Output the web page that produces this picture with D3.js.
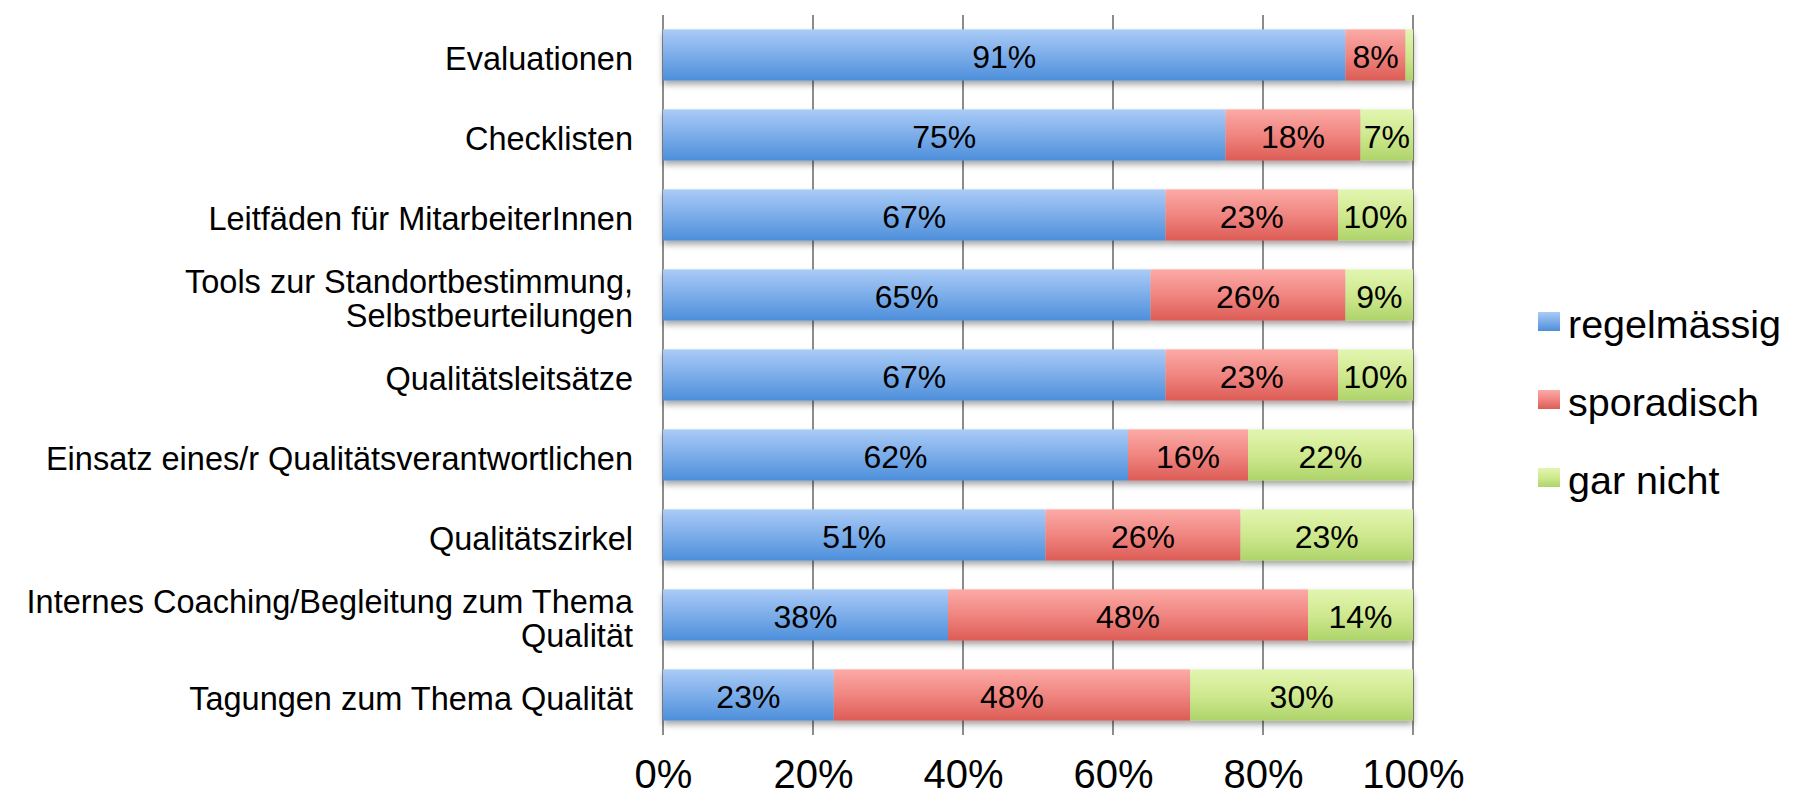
<!DOCTYPE html>
<html>
<head>
<meta charset="utf-8">
<script src="https://cdn.jsdelivr.net/npm/d3@7"></script>
<style>
    html, body { margin: 0; padding: 0; background: #fff; }
    svg { display: block; font-family: "Liberation Sans", Arial, Helvetica, sans-serif; }
</style>
</head>
<body>
<div id="chart"></div>
<script>
    // categories, top to bottom ("\n" = line break in the label)
    var categories = [
        "Evaluationen",
        "Checklisten",
        "Leitfäden für MitarbeiterInnen",
        "Tools zur Standortbestimmung,\nSelbstbeurteilungen",
        "Qualitätsleitsätze",
        "Einsatz eines/r Qualitätsverantwortlichen",
        "Qualitätszirkel",
        "Internes Coaching/Begleitung zum Thema\nQualität",
        "Tagungen zum Thema Qualität"
    ];
    var seriesNames = ["regelmässig", "sporadisch", "gar nicht"];
    var regelmaessig = [91, 75, 67, 65, 67, 62, 51, 38, 23];
    var sporadisch = [8, 18, 23, 26, 23, 16, 26, 48, 48];
    var garNicht = [1, 7, 10, 9, 10, 22, 23, 14, 30];
    var tickValues = [0, 0.2, 0.4, 0.6, 0.8, 1];
    var tickLabels = ["0%", "20%", "40%", "60%", "80%", "100%"];

    var width = 1795;
    var height = 806;
    var margin = {top: 15, right: 382, bottom: 71, left: 663};
    var innerWidth = width - margin.left - margin.right;
    var innerHeight = height - margin.top - margin.bottom;

    // build rows for the stack
    var rows = categories.map(function (c, i) {
        return {cat: c, "regelmässig": regelmaessig[i], "sporadisch": sporadisch[i], "gar nicht": garNicht[i]};
    });
    var stacked = d3.stack()
        .keys(seriesNames)
        .offset(d3.stackOffsetExpand)(rows);

    var svg = d3.select("#chart")
        .append("svg")
        .attr("width", width)
        .attr("height", height);

    var defs = svg.append("defs");
    var gradStops = {
        "regelmässig": ["#aacbf7", "#7cade9", "#4d8fdb"],
        "sporadisch": ["#fbaaa6", "#f08580", "#dc5c56"],
        "gar nicht": ["#e2f5b0", "#cfe98f", "#aed46a"]
    };
    seriesNames.forEach(function (name, i) {
        var g = defs.append("linearGradient")
            .attr("id", "grad" + i)
            .attr("x1", 0).attr("y1", 0)
            .attr("x2", 0).attr("y2", 1);
        g.append("stop").attr("offset", "0%").attr("stop-color", gradStops[name][0]);
        g.append("stop").attr("offset", "50%").attr("stop-color", gradStops[name][1]);
        g.append("stop").attr("offset", "100%").attr("stop-color", gradStops[name][2]);
    });
    var shadow = defs.append("filter")
        .attr("id", "shadow")
        .attr("x", "-5%").attr("y", "-20%")
        .attr("width", "110%").attr("height", "160%");
    shadow.append("feDropShadow")
        .attr("dx", 0).attr("dy", 4)
        .attr("stdDeviation", 3)
        .attr("flood-color", "#000")
        .attr("flood-opacity", 0.35);

    var g = svg.append("g")
        .attr("transform", "translate(" + margin.left + "," + margin.top + ")");

    var x = d3.scaleLinear()
        .domain([0, 1])
        .range([0, innerWidth]);
    var y = d3.scaleBand()
        .domain(categories)
        .range([0, innerHeight])
        .paddingInner(0.36)
        .paddingOuter(0.18);

    // vertical grid lines
    g.append("g")
        .selectAll("line")
        .data(tickValues)
        .join("line")
        .attr("x1", function (d) { return x(d); })
        .attr("x2", function (d) { return x(d); })
        .attr("y1", 0)
        .attr("y2", innerHeight)
        .attr("stroke", "#8c8c8c")
        .attr("stroke-width", 2);

    // bottom frame line with a soft shadow
    g.append("line")
        .attr("x1", x(0) - 1)
        .attr("x2", x(1) + 1)
        .attr("y1", innerHeight)
        .attr("y2", innerHeight)
        .attr("stroke", "#8c8c8c")
        .attr("stroke-width", 2)
        .attr("filter", "url(#shadow)");

    // stacked bars
    var layers = g.append("g")
        .attr("filter", "url(#shadow)")
        .selectAll("g")
        .data(stacked)
        .join("g")
        .attr("fill", function (d, i) { return "url(#grad" + i + ")"; });

    layers.selectAll("rect")
        .data(function (d) { return d; })
        .join("rect")
        .attr("x", function (d) { return x(d[0]); })
        .attr("y", function (d) { return y(d.data.cat); })
        .attr("width", function (d) { return x(d[1]) - x(d[0]); })
        .attr("height", y.bandwidth());

    // value labels in the segments
    stacked.forEach(function (layer) {
        g.append("g")
            .selectAll("text")
            .data(layer.filter(function (d) { return d.data[layer.key] >= 3; }))
            .join("text")
            .attr("x", function (d) { return (x(d[0]) + x(d[1])) / 2; })
            .attr("y", function (d) { return y(d.data.cat) + y.bandwidth() / 2 + 2; })
            .attr("dy", "0.35em")
            .attr("text-anchor", "middle")
            .attr("font-size", "32px")
            .attr("fill", "#000")
            .text(function (d) { return d.data[layer.key] + "%"; });
    });

    // category labels
    var catLabels = g.append("g")
        .selectAll("text")
        .data(categories)
        .join("text")
        .attr("text-anchor", "end")
        .attr("font-size", "32.5px")
        .attr("fill", "#000")
        .attr("transform", function (d) {
            return "translate(-30," + (y(d) + y.bandwidth() / 2 + 4) + ")";
        });
    catLabels.each(function (d) {
        var lines = d.split("\n");
        var lh = 34;
        d3.select(this).selectAll("tspan")
            .data(lines)
            .join("tspan")
            .attr("x", 0)
            .attr("y", function (l, i) { return (i - (lines.length - 1) / 2) * lh; })
            .attr("dy", "0.35em")
            .text(function (l) { return l; });
    });

    // x axis
    var xAxis = g.append("g")
        .attr("transform", "translate(0," + innerHeight + ")")
        .call(d3.axisBottom(x)
            .tickValues(tickValues)
            .tickSize(0)
            .tickPadding(40)
            .tickFormat(function (d, i) { return tickLabels[i]; }));
    xAxis.select(".domain").remove();
    xAxis.selectAll("text")
        .attr("font-size", "40px")
        .attr("font-family", "\"Liberation Sans\", Arial, sans-serif")
        .attr("fill", "#000")
        .attr("dy", "0.32em");

    // legend
    var legend = svg.append("g")
        .attr("transform", "translate(1538,322)");
    var item = legend.selectAll("g")
        .data(seriesNames)
        .join("g")
        .attr("transform", function (d, i) { return "translate(0," + (i * 78) + ")"; });
    item.append("rect")
        .attr("x", 0)
        .attr("y", -10)
        .attr("width", 22)
        .attr("height", 19)
        .attr("fill", function (d, i) { return "url(#grad" + i + ")"; });
    item.append("text")
        .attr("x", 30)
        .attr("y", 2)
        .attr("dy", "0.35em")
        .attr("font-size", "39.5px")
        .attr("fill", "#000")
        .text(function (d) { return d; });
</script>
</body>
</html>
